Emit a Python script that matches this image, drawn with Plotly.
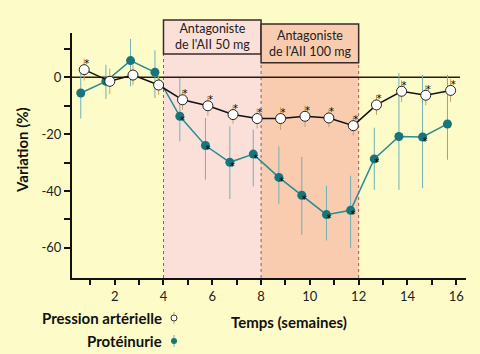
import plotly.graph_objects as go

# ---------------- data ----------------
bp_weeks = [0.75, 1.8, 2.75, 3.8, 4.78, 5.82, 6.85, 7.84, 8.8, 9.8, 10.78, 11.78, 12.73, 13.76, 14.75, 15.77]
bp_values = [2.7, -1.4, 0.8, -2.7, -7.9, -10.0, -13.1, -14.5, -14.5, -13.7, -14.3, -17.0, -9.7, -4.9, -6.3, -4.6]
bp_err = [3.8, 4.5, 3.6, 3.5, 3.5, 3.5, 3.2, 3.5, 4.0, 3.8, 3.2, 3.5, 3.5, 3.8, 3.5, 4.0]
bp_signif = ["*", "", "", "", "*", "*", "*", "*", "*", "*", "*", "*", "*", "*", "*", "*"]

prot_weeks = [0.61, 1.64, 2.65, 3.65, 4.67, 5.72, 6.72, 7.68, 8.73, 9.67, 10.68, 11.67, 12.64, 13.65, 14.62, 15.64]
prot_values = [-5.5, -1.4, 5.9, 1.8, -13.7, -24.0, -29.9, -27.0, -35.2, -41.5, -48.3, -46.8, -28.7, -20.8, -21.0, -16.4]
prot_err_plus = [9.0, 5.8, 7.6, 7.7, 13.5, 9.7, 12.7, 8.6, 10.9, 13.5, 10.2, 12.2, 11.0, 22.3, 21.9, 17.3]
prot_err_minus = [9.0, 6.2, 9.1, 9.1, 8.8, 12.0, 12.9, 11.4, 9.3, 13.9, 9.1, 13.2, 10.9, 18.8, 18.0, 12.6]
prot_signif = ["", "", "", "", "*", "*", "*", "*", "*", "*", "*", "*", "*", "", "*", ""]

periods = [(4, 8), (8, 12)]
period_labels = ["Antagoniste<br>de l'AII 50 mg", "Antagoniste<br>de l'AII 100 mg"]

x_ticks = list(range(1, 17))
x_ticktext = [str(v) if v % 2 == 0 else "" for v in x_ticks]
y_ticks = [10, 0, -10, -20, -30, -40, -50, -60]
y_ticktext = ["", "0", "", "-20", "", "-40", "", "-60"]

# ---------------- styles / geometry ----------------
W, H = 480, 354
ML, MR, MT, MB = 72, 14, 33, 76
XR = [0.25, 16.4]
YR = [-70.6, 15.6]
BG = "#fdfcc8"
TEAL = "#17767b"
TEAL_LINE = "#2b8b92"
TEAL_ERR = "#6fb0b8"
TAN_ERR = "#c4a35c"
FONT = "Lato"

pw = W - ML - MR
ph = H - MT - MB


def px_x(p):
    return (p - ML) / pw


def px_y(p):
    return (H - MB - p) / ph


def dx(v):
    return (v - XR[0]) / (XR[1] - XR[0])


def dy(v):
    return (v - YR[0]) / (YR[1] - YR[0])


fig = go.Figure()

# Protéinurie
fig.add_trace(go.Scatter(
    x=prot_weeks, y=prot_values, mode="lines+markers",
    line=dict(color=TEAL_LINE, width=1.5),
    marker=dict(color=TEAL, size=9, line=dict(width=0)),
    error_y=dict(type="data", symmetric=False, array=prot_err_plus, arrayminus=prot_err_minus,
                 color=TEAL_ERR, thickness=1, width=0),
    showlegend=False, cliponaxis=False,
))
fig.add_trace(go.Scatter(
    x=prot_weeks, y=prot_values, mode="text", text=prot_signif,
    textposition="bottom right", textfont=dict(size=10, color="#000", family="DejaVu Sans"),
    showlegend=False, cliponaxis=False,
))

# Pression artérielle
fig.add_trace(go.Scatter(
    x=bp_weeks, y=bp_values, mode="lines+markers",
    line=dict(color="#111", width=1.5),
    marker=dict(color="white", size=10, line=dict(color="#222", width=1)),
    error_y=dict(type="data", array=bp_err, color=TAN_ERR, thickness=1, width=0),
    showlegend=False, cliponaxis=False,
))
fig.add_trace(go.Scatter(
    x=bp_weeks, y=bp_values, mode="text", text=bp_signif,
    textposition="top right", textfont=dict(size=10, color="#000", family="DejaVu Sans"),
    showlegend=False, cliponaxis=False,
))

shapes = []
region_fill = ["#fbe0da", "#f9ccb0"]
box_top = [20, 24]
box_bot = [54, 62.7]
for i, (a, b) in enumerate(periods):
    shapes.append(dict(type="rect", xref="paper", yref="paper", x0=dx(a), x1=dx(b), y0=0,
                       y1=px_y(box_bot[i]), fillcolor=region_fill[i], line=dict(width=0), layer="below"))
for i, (a, b) in enumerate(periods):
    shapes.append(dict(type="rect", xref="paper", yref="paper", x0=dx(a), x1=dx(b),
                       y0=px_y(box_bot[i]), y1=px_y(box_top[i]), fillcolor=region_fill[i],
                       line=dict(color="#3a2a28", width=1.5), layer="above"))
# dotted boundaries
for xv, top in [(4, box_bot[0]), (8, box_bot[1]), (12, box_bot[1])]:
    shapes.append(dict(type="line", xref="paper", yref="paper", x0=dx(xv), x1=dx(xv), y0=0,
                       y1=px_y(top), line=dict(color="#9a5a55", width=1, dash="dot"), layer="below"))
# zero line
shapes.append(dict(type="line", xref="paper", yref="paper", x0=0, x1=px_x(460), y0=dy(0), y1=dy(0),
                   line=dict(color="#2a1a18", width=1.5), layer="below"))

# legend symbols
shapes.append(dict(type="line", xref="paper", yref="paper", x0=px_x(174), x1=px_x(174),
                   y0=px_y(312), y1=px_y(324), line=dict(color=TAN_ERR, width=1)))
shapes.append(dict(type="circle", xref="paper", yref="paper", x0=px_x(171), x1=px_x(177),
                   y0=px_y(321), y1=px_y(315), fillcolor="white", line=dict(color="#333", width=1)))
shapes.append(dict(type="line", xref="paper", yref="paper", x0=px_x(174), x1=px_x(174),
                   y0=px_y(335), y1=px_y(347), line=dict(color=TEAL_ERR, width=1)))
shapes.append(dict(type="circle", xref="paper", yref="paper", x0=px_x(171), x1=px_x(177),
                   y0=px_y(344), y1=px_y(338), fillcolor=TEAL, line=dict(width=0)))

annotations = []
for i, (a, b) in enumerate(periods):
    annotations.append(dict(xref="paper", yref="paper", x=(dx(a) + dx(b)) / 2,
                            y=px_y((box_top[i] + box_bot[i]) / 2), text=period_labels[i],
                            showarrow=False, font=dict(family=FONT, size=12.5, color="#222"),
                            xanchor="center", yanchor="middle"))
annotations.append(dict(xref="paper", yref="paper", x=px_x(22), y=px_y(150), text="<b>Variation (%)</b>",
                        textangle=-90, showarrow=False, font=dict(family=FONT, size=15, color="#111"),
                        xanchor="center", yanchor="middle"))
annotations.append(dict(xref="paper", yref="paper", x=px_x(289), y=px_y(322), text="<b>Temps (semaines)</b>",
                        showarrow=False, font=dict(family=FONT, size=15, color="#111"),
                        xanchor="center", yanchor="middle"))
annotations.append(dict(xref="paper", yref="paper", x=px_x(164), y=px_y(318), text="<b>Pression artérielle</b>",
                        showarrow=False, font=dict(family=FONT, size=15, color="#111"),
                        xanchor="right", yanchor="middle"))
annotations.append(dict(xref="paper", yref="paper", x=px_x(164), y=px_y(341), text="<b>Protéinurie</b>",
                        showarrow=False, font=dict(family=FONT, size=15, color="#111"),
                        xanchor="right", yanchor="middle"))

fig.update_layout(
    width=W, height=H, margin=dict(l=ML, r=MR, t=MT, b=MB),
    paper_bgcolor=BG, plot_bgcolor=BG,
    shapes=shapes, annotations=annotations, showlegend=False,
    xaxis=dict(range=XR, tickvals=x_ticks, ticktext=x_ticktext, ticks="outside", ticklen=5,
               tickcolor="#111", tickwidth=1.5, showline=True, linecolor="#111", linewidth=2,
               showgrid=False, zeroline=False, tickfont=dict(family=FONT, size=13, color="#222")),
    yaxis=dict(range=YR, tickvals=y_ticks, ticktext=y_ticktext, ticks="outside", ticklen=6,
               tickcolor="#111", tickwidth=1.5, showline=True, linecolor="#111", linewidth=2,
               showgrid=False, zeroline=False, tickfont=dict(family=FONT, size=13, color="#222")),
)

fig.write_html("out.html")
